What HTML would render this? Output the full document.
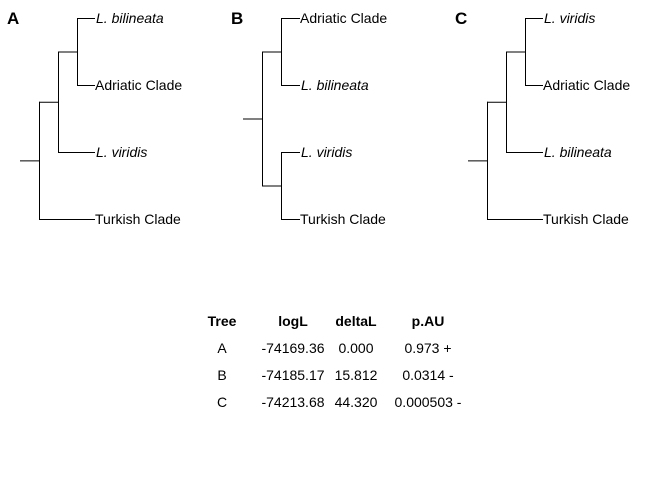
<!DOCTYPE html>
<html><head><meta charset="utf-8"><style>
body{margin:0;background:#fff}
svg{display:block;font-family:"Liberation Sans",Arial,sans-serif}
</style></head><body>
<svg id="s" width="672" height="480"></svg>
<script>
const trees = ["A","B","C"];
const tipsA = ["L. bilineata","Adriatic Clade","L. viridis","Turkish Clade"];
const tipsB = ["Adriatic Clade","L. bilineata","L. viridis","Turkish Clade"];
const tipsC = ["L. viridis","Adriatic Clade","L. bilineata","Turkish Clade"];
const italicTips = ["L. bilineata","L. viridis"];
const tableHeaders = ["Tree","logL","deltaL","p.AU"];
const logL = ["-74169.36","-74185.17","-74213.68"];
const deltaL = ["0.000","15.812","44.320"];
const pAU = ["0.973 +","0.0314 -","0.000503 -"];

const NS="http://www.w3.org/2000/svg";
const svg=document.getElementById('s');
function mk(tag,attrs,parent){const e=document.createElementNS(NS,tag);for(const k in attrs)e.setAttribute(k,attrs[k]);(parent||svg).appendChild(e);return e;}
function ln(g,x1,y1,x2,y2){const l=mk('line',{x1,y1,x2,y2,stroke:'#000','stroke-width':1},g);

}
const tipY=[18,85,152,219];
function drawTree(idx,tips,shape){
  const ox=idx*224;
  const g=mk('g',{});
  
  
  const lab=mk('text',{x:ox+7,y:24,'font-size':17,'font-weight':'bold'},g);
  lab.textContent=trees[idx];
  
  
  const tx=ox+95;
  if(shape==='ladder'){
    const x1=ox+39,x2=ox+58,x3=ox+77;
    const n3=(tipY[0]+tipY[1])/2, n2=(n3+tipY[2])/2, n1=(n2+tipY[3])/2;
    ln(g,ox+20,n1+0.5,x1,n1+0.5);
    ln(g,x1+0.5,n2,x1+0.5,tipY[3]);
    ln(g,x1,n2+0.5,x2,n2+0.5); ln(g,x1,tipY[3]+0.5,tx,tipY[3]+0.5);
    ln(g,x2+0.5,n3,x2+0.5,tipY[2]);
    ln(g,x2,n3+0.5,x3,n3+0.5); ln(g,x2,tipY[2]+0.5,tx,tipY[2]+0.5);
    ln(g,x3+0.5,tipY[0],x3+0.5,tipY[1]);
    ln(g,x3,tipY[0]+0.5,tx,tipY[0]+0.5); ln(g,x3,tipY[1]+0.5,tx,tipY[1]+0.5);
  } else {
    const x1=ox+38,x2=ox+57; const txb=ox+76;
    const a=(tipY[0]+tipY[1])/2,b=(tipY[2]+tipY[3])/2,r=(a+b)/2;
    ln(g,ox+19,r+0.5,x1,r+0.5);
    ln(g,x1+0.5,a,x1+0.5,b);
    ln(g,x1,a+0.5,x2,a+0.5); ln(g,x1,b+0.5,x2,b+0.5);
    ln(g,x2+0.5,tipY[0],x2+0.5,tipY[1]); ln(g,x2+0.5,tipY[2],x2+0.5,tipY[3]);
    tipY.forEach(y=>ln(g,x2,y+0.5,txb,y+0.5));
  }
  tips.forEach((t,i)=>{
    const it=italicTips.includes(t);
    const e=mk('text',{x:(shape==='ladder'?tx:ox+76)+(it?1:0),y:tipY[i]+5,'font-size':14,'font-style':it?'italic':'normal'},g);
    e.textContent=t;
    
    
  });
}
drawTree(0,tipsA,'ladder');
drawTree(1,tipsB,'balanced');
drawTree(2,tipsC,'ladder');

const colX=[222,293,356,428];
const tg=mk('g',{});


tableHeaders.forEach((h,i)=>{
  const e=mk('text',{x:colX[i],y:326,'font-size':14,'font-weight':'bold','text-anchor':'middle'},tg);
  e.textContent=h;
  
  
});
trees.forEach((t,r)=>{
  const y=353+r*27;
  [t,logL[r],deltaL[r],pAU[r]].forEach((v,c)=>{
    const e=mk('text',{x:colX[c],y:y,'font-size':14,'text-anchor':'middle'},tg);
    e.textContent=v;
    
    
  });
});
</script>
</body></html>
